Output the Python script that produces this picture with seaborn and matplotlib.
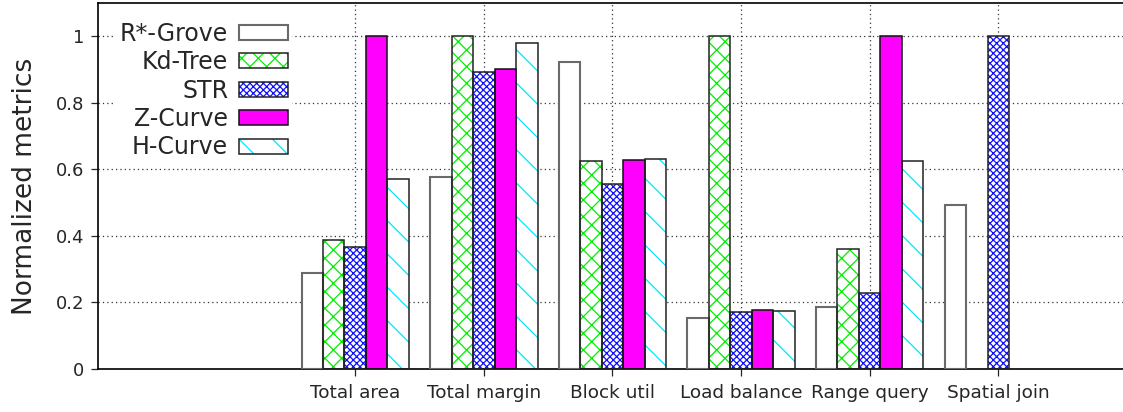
import numpy as np
import pandas as pd
import matplotlib
matplotlib.use("Agg")
import matplotlib.pyplot as plt
from matplotlib.patches import Patch
import seaborn as sns

# ---- data -------------------------------------------------------------
categories = ["Total area", "Total margin", "Block util",
              "Load balance", "Range query", "Spatial join"]
methods = ["R*-Grove", "Kd-Tree", "STR", "Z-Curve", "H-Curve"]

rstar_grove = [0.289, 0.576, 0.924, 0.152, 0.187, 0.493]
kd_tree     = [0.389, 1.000, 0.626, 1.000, 0.362, np.nan]
str_tree    = [0.367, 0.894, 0.555, 0.172, 0.227, 1.000]
z_curve     = [1.000, 0.903, 0.629, 0.176, 1.000, np.nan]
h_curve     = [0.570, 0.981, 0.632, 0.175, 0.626, np.nan]

y_ticks = [0, 0.2, 0.4, 0.6, 0.8, 1.0]
y_tick_labels = ["0", "0.2", "0.4", "0.6", "0.8", "1"]

series = {"R*-Grove": rstar_grove, "Kd-Tree": kd_tree, "STR": str_tree,
          "Z-Curve": z_curve, "H-Curve": h_curve}
df = pd.DataFrame([
    {"metric": c, "method": m, "value": v}
    for m in methods for c, v in zip(categories, series[m])
])

# ---- styling per method ----------------------------------------------
face = {"R*-Grove": "white", "Kd-Tree": "white", "STR": "white",
        "Z-Curve": "#ff00ff", "H-Curve": "white"}
hatch = {"R*-Grove": "", "Kd-Tree": "xx", "STR": "xxxxx",
         "Z-Curve": "", "H-Curve": "\\"}
hatch_color = {"R*-Grove": "white", "Kd-Tree": "#00ee00", "STR": "#1010ff",
               "Z-Curve": "#ff00ff", "H-Curve": "#00e5ff"}
outline = {"R*-Grove": "#6a6a6a", "Kd-Tree": "#222222", "STR": "#222222",
           "Z-Curve": "#111111", "H-Curve": "#222222"}
edge_lw = {m: (1.5 if m == "R*-Grove" else 1.1) for m in methods}

sns.set_style("ticks")
plt.rcParams["font.family"] = ["DejaVu Sans"]
plt.rcParams["hatch.linewidth"] = 0.9

W, H = 1123, 412
fig = plt.figure(figsize=(W / 100, H / 100), dpi=100)
ax = fig.add_axes([98 / W, (H - 369) / H, (W - 98) / W, 366 / H])

bar_width = 0.835

# hatched / filled bodies
sns.barplot(data=df, x="metric", y="value", hue="method", order=categories,
            hue_order=methods, palette=[face[m] for m in methods],
            width=bar_width, errorbar=None, saturation=1, legend=False,
            linewidth=0, ax=ax)
for m, cont in zip(methods, ax.containers):
    for p in cont.patches:
        p.set_facecolor(face[m])
        p.set_edgecolor(hatch_color[m])
        p.set_hatch(hatch[m])
        p.set_linewidth(0)
        p.set_zorder(2)

n_body = len(ax.containers)

# outlines on top
sns.barplot(data=df, x="metric", y="value", hue="method", order=categories,
            hue_order=methods, palette=[outline[m] for m in methods],
            width=bar_width, errorbar=None, saturation=1, legend=False,
            fill=False, linewidth=1.1, ax=ax)
for m, cont in zip(methods, ax.containers[n_body:]):
    for p in cont.patches:
        p.set_facecolor("none")
        p.set_edgecolor(outline[m])
        p.set_linewidth(edge_lw[m])
        p.set_zorder(3)

# ---- axes --------------------------------------------------------------
ax.set_xlim(-2.0, 5.97)
ax.set_ylim(0, 1.1)
ax.set_yticks(y_ticks)
ax.set_yticklabels(y_tick_labels)
ax.set_xlabel("")
ax.set_ylabel("Normalized metrics", fontsize=19, labelpad=13)
ax.tick_params(axis="x", labelsize=13.3, direction="out", length=5, width=0.9, pad=6)
ax.tick_params(axis="y", labelsize=13, direction="out", length=5, width=0.9, pad=5)

ax.set_axisbelow(True)
ax.grid(True, linestyle=(0, (1, 2.5)), color="#333333", linewidth=0.9)

for s in ["left", "top", "bottom"]:
    ax.spines[s].set_visible(True)
    ax.spines[s].set_color("black")
    ax.spines[s].set_linewidth(1.2)
ax.spines["right"].set_visible(False)

# ---- legend ----------------------------------------------------------------
handles = []
for m in methods:
    body = Patch(facecolor=face[m], edgecolor=hatch_color[m], hatch=hatch[m], linewidth=0)
    edge = Patch(facecolor="none", edgecolor=outline[m], linewidth=edge_lw[m])
    handles.append((body, edge))

leg = ax.legend(handles, methods, loc="upper right",
                bbox_to_anchor=((292 - 98) / 1025, (369 - 18) / 366),
                fontsize=17, markerfirst=False, frameon=True, fancybox=False,
                handlelength=2.1, handleheight=0.6, handletextpad=0.45,
                labelspacing=0.19, borderpad=0.15, borderaxespad=0)
leg.get_frame().set_facecolor("white")
leg.get_frame().set_edgecolor("none")
leg.get_frame().set_alpha(1)

fig.savefig("out.png", dpi=100)
